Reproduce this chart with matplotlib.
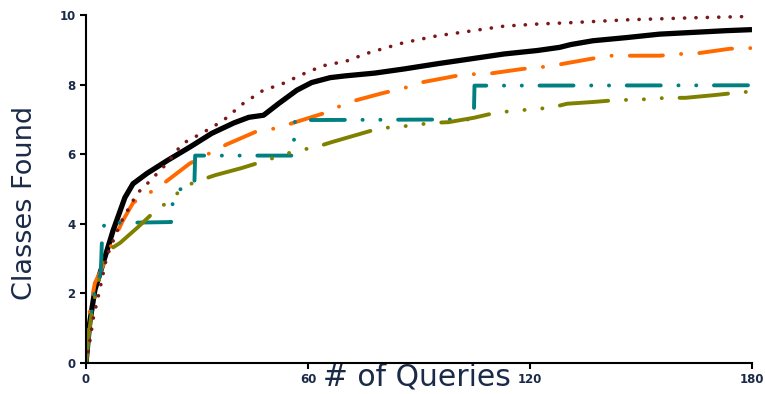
import matplotlib
matplotlib.use("Agg")
import matplotlib.pyplot as plt

# data (queries vs classes found)
black_x = [0, 1, 2.4, 5, 7.3, 10.5, 12.7, 16.5, 22, 28, 34, 40, 44, 48, 52, 57, 61, 66, 70, 78,
           86, 95, 104, 113, 122, 128, 131, 137, 146, 155, 164, 173, 180]
black_y = [0, 1.15, 2.1, 3.0, 3.8, 4.75, 5.15, 5.45, 5.82, 6.2, 6.6, 6.9, 7.06, 7.12, 7.45, 7.84,
           8.06, 8.2, 8.25, 8.33, 8.45, 8.6, 8.74, 8.88, 8.98, 9.07, 9.15, 9.26, 9.35, 9.45, 9.5,
           9.55, 9.58]

maroon_x = [0, 1, 2, 3.5, 5.6, 9.2, 13.8, 17, 22, 26, 31.6, 37, 42.4, 47.8, 53, 58.6, 64, 70.5,
            76, 85.7, 94.8, 104, 113, 122, 131, 146, 164, 180]
maroon_y = [0, 0.6, 1.3, 2.0, 3.05, 4.0, 4.87, 5.2, 5.75, 6.3, 6.62, 6.96, 7.45, 7.83, 8.02, 8.3,
            8.54, 8.68, 8.9, 9.2, 9.4, 9.54, 9.68, 9.74, 9.78, 9.86, 9.92, 9.96]

orange_x = [0, 1, 2.4, 3.8, 7.3, 10, 12.7, 15, 19, 22.7, 28, 34, 38, 46, 51.6, 56, 65, 69, 73,
            80, 86, 90, 100, 104, 108, 118, 123, 128, 137, 141, 146, 155, 160, 164, 174, 180]
orange_y = [0, 1.5, 2.3, 2.6, 3.5, 4.1, 4.6, 4.77, 5.0, 5.3, 5.73, 6.06, 6.28, 6.65, 6.75, 6.9,
            7.2, 7.4, 7.55, 7.75, 7.9, 8.05, 8.25, 8.3, 8.3, 8.45, 8.5, 8.58, 8.75, 8.83, 8.83,
            8.83, 8.88, 8.88, 9.03, 9.05]

teal_x = [0, 1, 2, 4, 4.3, 4.8, 5, 23, 23.5, 25, 26.8, 29.3, 29.5, 56, 56.5, 104.8, 105, 180]
teal_y = [0, 1, 1.9, 2.6, 3.5, 3.9, 4.02, 4.05, 4.7, 4.97, 5.05, 5.17, 5.96, 5.96, 6.98, 7.0,
          7.97, 7.98]

olive_x = [0, 0.5, 1.6, 3, 5, 7, 9.2, 14, 19.5, 23.2, 26, 30.8, 35, 42, 49, 52.4, 57, 62, 66.5,
           73, 79.5, 84, 89, 93.5, 98, 105, 111, 116.5, 121, 125.5, 130, 137, 144, 149, 153,
           158, 162, 170, 177, 180]
olive_y = [0, 0.6, 1.5, 2.2, 2.9, 3.3, 3.45, 3.9, 4.45, 4.68, 5.05, 5.25, 5.4, 5.6, 5.83, 5.96,
           6.1, 6.2, 6.35, 6.55, 6.75, 6.78, 6.84, 6.9, 6.92, 7.05, 7.2, 7.25, 7.3, 7.33, 7.45,
           7.5, 7.56, 7.56, 7.6, 7.62, 7.62, 7.7, 7.78, 7.8]

x_ticks = [0, 60, 120, 180]
y_ticks = [0, 2, 4, 6, 8, 10]

plt.rcParams['lines.scale_dashes'] = False
text_color = '#1b2a48'

fig = plt.figure(figsize=(7.65, 3.94), dpi=100)
ax = fig.add_axes([86 / 765, 1 - 363 / 394, 666 / 765, 348 / 394])

ax.plot(black_x, black_y, color='black', lw=3.8, solid_capstyle='butt')
ax.plot(orange_x, orange_y, color='#ff6a00', lw=2.8, dash_capstyle='round',
        linestyle=(0, (23.8, 13.1, 0.1, 13.1)))
ax.plot(teal_x, teal_y, color='#008080', lw=2.8, dash_capstyle='round',
        linestyle=(0, (24.5, 12.7, 0.1, 12.7, 0.1, 12.7)))
ax.plot(olive_x, olive_y, color='#808000', lw=2.8, dash_capstyle='round',
        linestyle=(0, (35, 12.8, 0.1, 12.8, 0.1, 12.8, 0.1, 12.8)))
ax.plot(maroon_x, maroon_y, color='#7b1818', lw=2.6, dash_capstyle='round',
        linestyle=(0, (0.1, 8.1)))

ax.set_xlim(0, 180)
ax.set_ylim(0, 10)
ax.set_xticks(x_ticks)
ax.set_yticks(y_ticks)

for side in ['top', 'right']:
    ax.spines[side].set_visible(False)
for side in ['left', 'bottom']:
    ax.spines[side].set_linewidth(1.5)
ax.tick_params(direction='out', length=4.5, width=1.5, labelsize=8.5, labelcolor=text_color, pad=3)
for lab in ax.get_xticklabels() + ax.get_yticklabels():
    lab.set_fontweight('bold')

ax.set_ylabel('Classes Found', fontsize=19.5, color=text_color)
ax.yaxis.set_label_coords((38 - 86) / 666, 0.46)
ax.set_xlabel('# of Queries', fontsize=21.5, color=text_color, va='center')
ax.xaxis.set_label_coords((417 - 86) / 666, -14 / 348)

plt.savefig('out.png', dpi=100)
